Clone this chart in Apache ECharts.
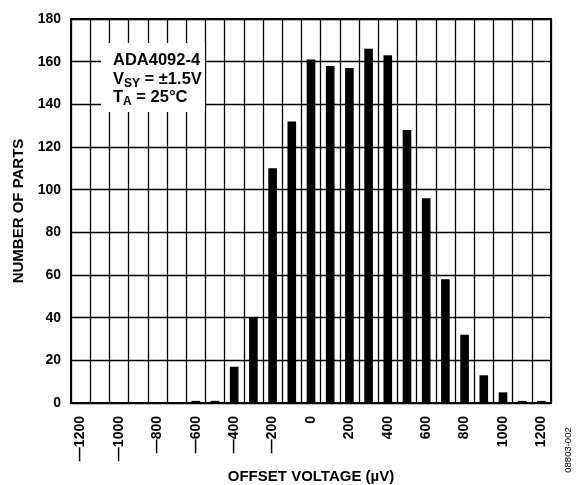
<!DOCTYPE html>
<html>
<head>
<meta charset="utf-8">
<script src="https://cdn.jsdelivr.net/npm/echarts@6/dist/echarts.min.js"></script>
<style>html,body{margin:0;padding:0;background:#fff}#c{width:576px;height:485px}</style>
</head>
<body>
<div id="c"></div>
<script>
var categories = [-1200,-1100,-1000,-900,-800,-700,-600,-500,-400,-300,-200,-100,0,100,200,300,400,500,600,700,800,900,1000,1100,1200];
var counts = [0,0,0,0,0,0,1,1,17,40,110,132,161,158,157,166,163,128,96,58,32,13,5,1,1];
var yTicks = {min:0, max:180, interval:20};
var xTitle = 'OFFSET VOLTAGE (µV)';
var yTitle = 'NUMBER OF PARTS';
var figId = '08803-002';

var FONT = '"Liberation Sans", Arial, sans-serif';
var chart = echarts.init(document.getElementById('c'), null, {renderer:'canvas'});
function fmt(v){ v = Number(v); return v < 0 ? '\u2014' + Math.abs(v) : String(v); }
chart.setOption({
  animation:false,
  backgroundColor:'#fff',
  grid:{left:71, right:25, top:19, bottom:82, outerBoundsMode:'none', containLabel:false, show:true, borderColor:'#000', borderWidth:2, backgroundColor:'transparent'},
  xAxis:{
    type:'category',
    data:categories.map(String),
    boundaryGap:true,
    axisLine:{show:true, lineStyle:{color:'#000', width:2}},
    axisTick:{show:false},
    axisLabel:{interval:1, rotate:90, color:'#000', fontFamily:FONT, fontWeight:'bold', fontSize:14, margin:13, formatter:fmt},
    splitLine:{show:true, interval:0, lineStyle:{color:'#000', width:1.3}},
    name:xTitle, nameLocation:'middle', nameGap:66,
    nameTextStyle:{color:'#000', fontFamily:FONT, fontWeight:'bold', fontSize:15}
  },
  yAxis:{
    type:'value', min:yTicks.min, max:yTicks.max, interval:yTicks.interval,
    axisLine:{show:true, lineStyle:{color:'#000', width:2}},
    axisTick:{show:false},
    axisLabel:{color:'#000', fontFamily:FONT, fontWeight:'bold', fontSize:14, margin:10},
    splitLine:{show:true, lineStyle:{color:'#000', width:1.3}},
    name:yTitle, nameLocation:'middle', nameGap:45,
    nameTextStyle:{color:'#000', fontFamily:FONT, fontWeight:'bold', fontSize:15}
  },
  series:[{
    type:'bar', data:counts, barWidth:'45%',
    itemStyle:{color:'#000'}, z:3
  }],
  graphic:[
    {type:'rect', shape:{x:101, y:43, width:104, height:69}, style:{fill:'#fff'}, z:10},
    {type:'text', left:113, top:52, z:11, style:{
      text:'{t|ADA4092-4}\n{t|V}{s|SY}{t| = ±1.5V}\n{t|T}{s|A}{t| = 25°C}',
      rich:{
        t:{fontFamily:FONT, fontWeight:'bold', fontSize:16.5, fill:'#000', lineHeight:18.5, verticalAlign:'top'},
        s:{fontFamily:FONT, fontWeight:'bold', fontSize:12, fill:'#000', lineHeight:18.5, verticalAlign:'top', padding:[7,0,0,0]}
      }
    }},
    {type:'text', x:568, y:450, rotation:Math.PI/2, z:11, style:{
      text:figId, fontFamily:FONT, fontSize:9.5, fill:'#000', align:'center', verticalAlign:'middle'
    }}
  ]
});
</script>
</body>
</html>
